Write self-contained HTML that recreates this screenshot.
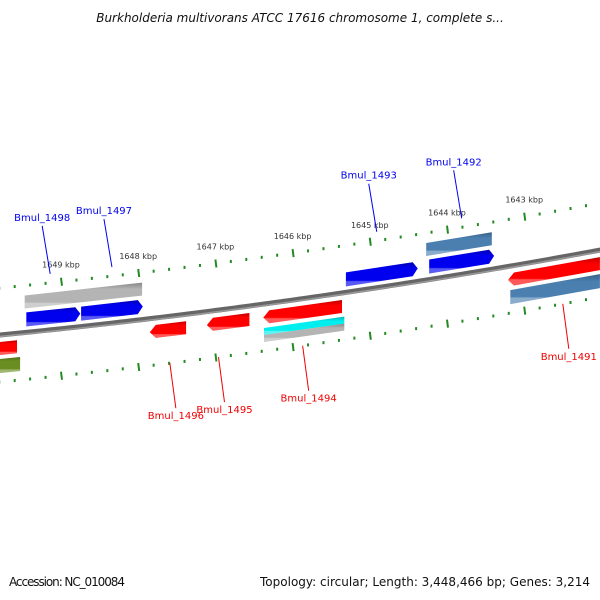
<!DOCTYPE html>
<html><head><meta charset="utf-8"><style>
html,body{margin:0;padding:0;background:#fff;}
svg{display:block;font-family:"DejaVu Sans","Liberation Sans",sans-serif;}
</style></head><body>
<svg id="map" width="600" height="600" viewBox="0 0 600 600" xmlns="http://www.w3.org/2000/svg">
<defs>
<linearGradient id="shade" x1="0" y1="0" x2="0" y2="1">
<stop offset="0" stop-color="#000" stop-opacity="0.25"/>
<stop offset="0.25" stop-color="#000" stop-opacity="0"/>
<stop offset="0.75" stop-color="#fff" stop-opacity="0"/>
<stop offset="0.8" stop-color="#fff" stop-opacity="0.35"/>
<stop offset="1" stop-color="#fff" stop-opacity="0.35"/>
</linearGradient>
</defs>
<text x="300" y="22" text-anchor="middle" font-size="12" font-style="italic" fill="#111">Burkholderia multivorans ATCC 17616 chromosome 1, complete s...</text>
<g id="ticks"></g>
<g id="backbone"></g>
<g id="features"></g>
<g id="labels"></g>
<text x="9" y="586" font-size="12" fill="#111" textLength="116">Accession: NC_010084</text>
<text x="590" y="586" text-anchor="end" font-size="12" fill="#111" textLength="330">Topology: circular; Length: 3,448,466 bp; Genes: 3,214</text>
</svg>
<script>
// data
const majorTicks = [1649, 1648, 1647, 1646, 1645, 1644, 1643];
const tickLabels = ["1649 kbp","1648 kbp","1647 kbp","1646 kbp","1645 kbp","1644 kbp","1643 kbp"];
const featStart = [1649.45,1648.74,1645.31,1644.23,1649.47,1644.27,1647.85,1647.11,1646.38,1643.21,1649.79,1646.37,1646.37,1643.18,1649.79];
const featEnd   = [1648.75,1647.94,1644.38,1643.39,1647.95,1643.42,1647.38,1646.56,1645.36,1642.02,1649.57,1645.33,1645.33,1642.02,1649.53];
const featRow   = ["A","A","A","A","B","B","C","C","C","C","C","D","E","F","F"];
const featArrow = ["r","r","r","r","","","l","l","l","l","","","","",""];
const featColor = ["#0000ee","#0000ee","#0000ee","#0000ee","#b4b4b4","#4a7fb0","#ff0000","#ff0000","#ff0000","#ff0000","#ff0000","#00eeee","#b4b4b4","#4a7fb0","#6b8e23"];
const geneNames = ["Bmul_1498","Bmul_1497","Bmul_1493","Bmul_1492","Bmul_1496","Bmul_1495","Bmul_1494","Bmul_1491"];
const geneKbp   = [1649.14,1648.34,1644.91,1643.81,1647.59,1646.96,1645.87,1642.5];
const geneStrand= ["+","+","+","+","-","-","-","-"];

const NS="http://www.w3.org/2000/svg";
const rows={A:[-20,-6],B:[-37,-24],C:[7,20],D:[24,31],E:[31,38],F:[24,38]};
function xOf(k){return 61+(1649-k)*77.2;}
function yOf(x){return 335-0.0983*x-0.000072*x*x;}
function mk(tag,attrs,parent){const e=document.createElementNS(NS,tag);for(const a in attrs)e.setAttribute(a,attrs[a]);parent.appendChild(e);return e;}

// backbone
const bb=document.getElementById('backbone');
let pts=[];for(let x=-5;x<=605;x+=5)pts.push(x+','+yOf(x).toFixed(2));
const bl1=mk('polyline',{points:pts.join(' '),fill:'none',stroke:'#666','stroke-width':5},bb);


let pts2=[];for(let x=-5;x<=605;x+=5)pts2.push(x+','+(yOf(x)+1.5).toFixed(2));
mk('polyline',{points:pts2.join(' '),fill:'none',stroke:'#999','stroke-width':1.5},bb);

// ticks
const tg=document.getElementById('ticks');
for(let k=1641;k<=1651;k+=0.2){
  const kk=Math.round(k*10)/10;
  const major=Math.abs(kk-Math.round(kk))<0.01;
  const x=xOf(kk); if(x<-5||x>605)continue;
  const y=yOf(x);
  [-47,47].forEach(off=>{
    const len=major?8:3;
    const t=mk('line',{x1:x,y1:y+off-len/2,x2:x+(major?1:0),y2:y+off+len/2,stroke:'#228b22','stroke-width':2},tg);
    
    
  });
}
majorTicks.forEach((k,i)=>{
  const x=xOf(k);const y=yOf(x);
  const t=mk('text',{x:x,y:y-61,'text-anchor':'middle','font-size':8,fill:'#333'},tg);
  t.textContent=tickLabels[i];
  
  
});

// features
const fg=document.getElementById('features');
featStart.forEach((s,i)=>{
  let x1=xOf(s),x2=xOf(featEnd[i]);
  const r=rows[featRow[i]];
  const y1=yOf(x1),y2=yOf(x2);
  const h=r[1]-r[0];
  let p;
  if(featArrow[i]==='r'){
    const xa=x2-5,ya=yOf(xa);
    p=[[x1,y1+r[0]],[xa,ya+r[0]],[x2,y2+r[0]+h/2],[xa,ya+r[1]],[x1,y1+r[1]]];
  }else if(featArrow[i]==='l'){
    const xa=x1+6,ya=yOf(xa);
    p=[[x1,y1+r[0]+h/2],[xa,ya+r[0]],[x2,y2+r[0]],[x2,y2+r[1]],[xa,ya+r[1]]];
  }else{
    p=[[x1,y1+r[0]],[x2,y2+r[0]],[x2,y2+r[1]],[x1,y1+r[1]]];
  }
  const ps=p.map(q=>q[0].toFixed(1)+','+q[1].toFixed(1)).join(' ');
  const g=mk('g',{},fg);
  
  
  mk('polygon',{points:ps,fill:featColor[i]},g);
  mk('polygon',{points:ps,fill:'url(#shade)'},g);
});

// gene labels
const lg=document.getElementById('labels');
geneNames.forEach((n,i)=>{
  const x=xOf(geneKbp[i]);const y=yOf(x);
  const plus=geneStrand[i]==='+';
  const col=plus?'#0000ee':'#ee0000';
  let xa,ya,xb,yb,tx,ty;
  if(plus){xa=x;ya=y-56;xb=x-8;yb=y-104;tx=xb;ty=yb-5;}
  else{xa=x;ya=y+47;xb=x+6;yb=y+92;tx=xb;ty=yb+11;}
  const l=mk('line',{x1:xa,y1:ya,x2:xb,y2:yb,stroke:col,'stroke-width':1},lg);
  
  
  const t=mk('text',{x:tx,y:ty,'text-anchor':'middle','font-size':10,fill:col},lg);
  t.textContent=n;
  
  
});
</script>
</body></html>
